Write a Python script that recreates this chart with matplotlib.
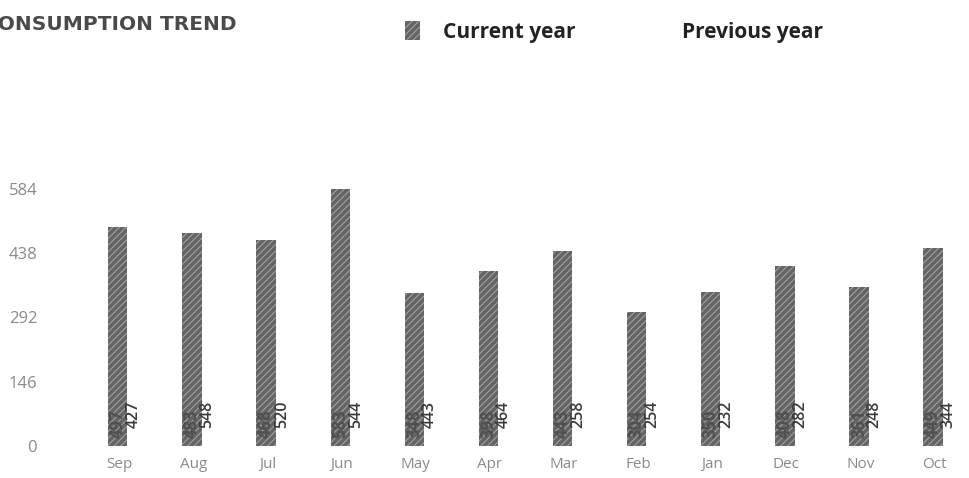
import numpy as np
import matplotlib.pyplot as plt
from matplotlib.patches import Patch

# Consumption per month, most recent month first
meses = ['Sep', 'Aug', 'Jul', 'Jun', 'May', 'Apr', 'Mar', 'Feb', 'Jan', 'Dec', 'Nov', 'Oct']
anno_actual = [497, 483, 468, 583, 348, 398, 443, 304, 350, 408, 361, 449]
anno_anterior = [427, 548, 520, 544, 443, 464, 258, 254, 232, 282, 248, 344]
ticks_y = [0, 146, 292, 438, 584]

plt.rcParams['font.family'] = ['Open Sans', 'DejaVu Sans']
plt.rcParams['hatch.color'] = '#a0a0a0'
plt.rcParams['hatch.linewidth'] = 0.8

fig = plt.figure(figsize=(9.7, 4.78), dpi=100)
ax = fig.add_axes([40 / 970, (478 - 446) / 478, 925 / 970, (446 - 100) / 478])

x = np.arange(len(meses))
ancho = 0.26

barras = ax.bar(x, anno_actual, width=ancho, color='#646464', hatch='/////',
                linewidth=0, label='Current year')
# la serie anterior no se pinta, solo se rotula junto a cada barra
previas = ax.bar(x + 0.22, anno_anterior, width=0.001, color='none',
                 linewidth=0, label='Previous year')

for xi, v in zip(x, anno_actual):
    ax.annotate(str(v), (xi, 0), xytext=(0, 6), textcoords='offset points',
                rotation=90, ha='center', va='bottom', fontsize=12,
                fontweight='bold', color='#505050')
for xi, v in zip(x, anno_anterior):
    ax.annotate(str(v), (xi + 0.21, 0), xytext=(0, 13), textcoords='offset points',
                rotation=90, ha='center', va='bottom', fontsize=11.5,
                fontweight='semibold', color='#3a3a3a')

ax.set_xlim(-1.05, 11.43)
ax.set_ylim(0, (446 - 100) * 2.27)
ax.set_xticks(x + 0.02)
ax.set_xticklabels(meses, fontsize=11, color='#8a8a8a')
ax.set_yticks(ticks_y)
ax.set_yticklabels([str(t) for t in ticks_y], fontsize=12, color='#8a8a8a')
ax.tick_params(length=0, pad=8)
ax.tick_params(axis='y', pad=2)
for lado in ax.spines.values():
    lado.set_visible(False)

fig.text(-17 / 970, 1 - 25 / 478, 'CONSUMPTION TREND', fontsize=14.5,
         family='DejaVu Sans', fontweight='bold', color='#4a4a4a',
         va='center', ha='left')

manejadores = [Patch(facecolor='#646464', hatch='/////', linewidth=0),
               Patch(facecolor='none', linewidth=0)]
fig.legend(manejadores, ['Current year', 'Previous year'], ncol=2,
           loc='center left', bbox_to_anchor=(386 / 970, 1 - 32 / 478),
           frameon=False, handlelength=0.72, handleheight=1.0,
           handletextpad=1.1, columnspacing=3.3, labelcolor='#222222',
           prop={'weight': 'bold', 'size': 15})

fig.savefig('out.png', dpi=100)
